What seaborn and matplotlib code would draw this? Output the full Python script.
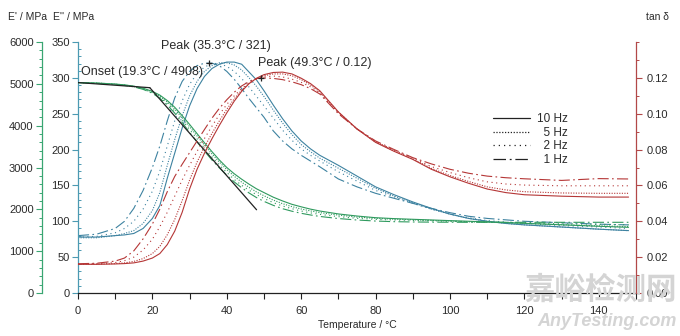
import matplotlib
matplotlib.use("Agg")
import numpy as np
import pandas as pd
import matplotlib.pyplot as plt
from matplotlib.lines import Line2D
from matplotlib.ticker import MultipleLocator, FixedLocator, FormatStrFormatter
import seaborn as sns

# ---- data -------------------------------------------------------------
temperature = [0, 5, 10, 12.5, 15, 17.5, 20, 22, 24, 26, 28, 30, 32, 34, 36, 38, 40,
               42, 44, 46, 48, 50, 52.5, 55, 57.5, 60, 62.5, 65, 70, 75, 80, 85, 90,
               95, 100, 105, 110, 115, 120, 130, 140, 148]
frequencies = ["10 Hz", "5 Hz", "2 Hz", "1 Hz"]

# storage modulus E' / MPa
storage_10hz = [5030, 5020, 4995, 4975, 4945, 4895, 4820, 4730, 4600, 4440, 4240, 4030, 3810, 3590,
                3380, 3180, 3000, 2850, 2720, 2600, 2490, 2400, 2290, 2200, 2120, 2060, 2005, 1960,
                1890, 1840, 1800, 1778, 1762, 1746, 1730, 1715, 1700, 1685, 1665, 1630, 1595, 1570]
storage_5hz = [5030, 5020, 4993, 4972, 4940, 4885, 4805, 4705, 4565, 4395, 4190, 3975, 3755, 3535,
               3325, 3130, 2950, 2790, 2650, 2525, 2415, 2325, 2220, 2135, 2065, 2008, 1962, 1922,
               1862, 1815, 1785, 1765, 1750, 1735, 1720, 1705, 1692, 1680, 1665, 1635, 1605, 1590]
storage_2hz = [5030, 5015, 4990, 4968, 4935, 4878, 4790, 4680, 4530, 4350, 4135, 3910, 3685, 3465,
               3255, 3060, 2880, 2715, 2575, 2455, 2350, 2260, 2160, 2080, 2015, 1960, 1915, 1880,
               1825, 1785, 1760, 1745, 1735, 1725, 1715, 1705, 1695, 1685, 1675, 1655, 1640, 1630]
storage_1hz = [5030, 5010, 4985, 4962, 4928, 4868, 4775, 4655, 4495, 4300, 4075, 3840, 3610, 3390,
               3180, 2990, 2815, 2655, 2515, 2390, 2280, 2190, 2095, 2015, 1955, 1905, 1865, 1830,
               1780, 1745, 1720, 1705, 1698, 1694, 1692, 1690, 1690, 1690, 1690, 1690, 1690, 1690]

# loss modulus E'' / MPa
loss_10hz = [78, 78, 80, 81, 83, 90, 104, 122, 160, 195, 230, 261, 285, 302, 313, 319, 322,
             322, 319, 308, 297, 282, 262, 243, 226, 212, 201, 192, 178, 163, 148, 137, 127,
             118, 110, 104, 100, 97, 95, 92, 89, 87]
loss_5hz = [77, 77, 80, 83, 87, 97, 115, 140, 178, 214, 247, 275, 295, 309, 317, 321, 321,
            318, 311, 300, 288, 274, 255, 237, 221, 207, 197, 188, 174, 160, 146, 135, 126,
            117, 110, 104, 100, 97, 95, 92, 89, 87]
loss_2hz = [78, 79, 84, 90, 100, 117, 142, 170, 205, 240, 268, 291, 306, 315, 320, 320, 316,
            309, 299, 287, 274, 261, 244, 227, 213, 201, 192, 184, 169, 156, 143, 134, 125,
            117, 110, 105, 101, 99, 97, 94, 92, 90]
loss_1hz = [80, 82, 90, 100, 118, 143, 175, 205, 240, 272, 295, 309, 317, 320.5, 320.5, 317, 309,
            298, 285, 271, 258, 245, 226, 212, 201, 192, 184, 176, 159, 148, 139, 132, 125,
            118, 112, 107, 104, 102, 100, 98, 96, 95]

# loss factor tan delta
tan_10hz = [0.0160, 0.0160, 0.0162, 0.0164, 0.0168, 0.0178, 0.0195, 0.0220, 0.0270, 0.0345, 0.0450,
            0.0580, 0.0690, 0.0780, 0.0860, 0.0935, 0.1005, 0.1070, 0.1125, 0.1168, 0.1198, 0.1218,
            0.1230, 0.1232, 0.1222, 0.1198, 0.1168, 0.1128, 0.1010, 0.0915, 0.0840, 0.0790, 0.0745,
            0.0690, 0.0648, 0.0612, 0.0580, 0.0560, 0.0548, 0.0540, 0.0535, 0.0535]
tan_5hz = [0.0160, 0.0161, 0.0164, 0.0168, 0.0176, 0.0192, 0.0220, 0.0260, 0.0325, 0.0410, 0.0515,
           0.0630, 0.0730, 0.0815, 0.0890, 0.0960, 0.1025, 0.1083, 0.1132, 0.1170, 0.1196, 0.1212,
           0.1222, 0.1222, 0.1212, 0.1190, 0.1160, 0.1122, 0.1008, 0.0915, 0.0842, 0.0792, 0.0748,
           0.0695, 0.0655, 0.0622, 0.0592, 0.0575, 0.0565, 0.0558, 0.0556, 0.0556]
tan_2hz = [0.0162, 0.0163, 0.0170, 0.0180, 0.0200, 0.0240, 0.0300, 0.0370, 0.0450, 0.0540, 0.0630,
           0.0712, 0.0790, 0.0862, 0.0930, 0.0995, 0.1052, 0.1100, 0.1140, 0.1172, 0.1193, 0.1205,
           0.1210, 0.1205, 0.1193, 0.1175, 0.1150, 0.1116, 0.1004, 0.0915, 0.0845, 0.0796, 0.0752,
           0.0705, 0.0672, 0.0643, 0.0620, 0.0608, 0.0602, 0.0598, 0.0598, 0.0598]
tan_1hz = [0.0163, 0.0166, 0.0178, 0.0195, 0.0235, 0.0302, 0.0385, 0.0468, 0.0565, 0.0650, 0.0718,
           0.0783, 0.0848, 0.0912, 0.0975, 0.1030, 0.1078, 0.1120, 0.1155, 0.1180, 0.1196, 0.1199,
           0.1197, 0.1190, 0.1178, 0.1162, 0.1140, 0.1110, 0.1000, 0.0915, 0.0848, 0.0800, 0.0755,
           0.0720, 0.0690, 0.0668, 0.0652, 0.0643, 0.0637, 0.0628, 0.0638, 0.0636]

# evaluation results
onset_temp, onset_storage = 19.3, 4908
baseline_temp, baseline_storage = [0, 19.3], [5030, 4908]
tangent_temp, tangent_storage = [19.3, 48.0], [4908, 1990]
peak_loss_temp, peak_loss = 35.3, 321
peak_tan_temp, peak_tan = 49.3, 0.12

x_ticks = [0, 20, 40, 60, 80, 100, 120, 140]
storage_ticks = [0, 1000, 2000, 3000, 4000, 5000, 6000]
loss_ticks = [0, 50, 100, 150, 200, 250, 300, 350]
tan_ticks = [0.00, 0.02, 0.04, 0.06, 0.08, 0.10, 0.12]

# ---- long-form tables --------------------------------------------------
def long_table(series):
    frames = []
    for freq, vals in zip(frequencies, series):
        frames.append(pd.DataFrame({"T": temperature, "value": vals, "freq": freq}))
    return pd.concat(frames, ignore_index=True)

df_storage = long_table([storage_10hz, storage_5hz, storage_2hz, storage_1hz])
df_loss = long_table([loss_10hz, loss_5hz, loss_2hz, loss_1hz])
df_tan = long_table([tan_10hz, tan_5hz, tan_2hz, tan_1hz])

# ---- style --------------------------------------------------------------
sns.set_style("ticks")
plt.rcParams["font.family"] = ["Liberation Sans", "DejaVu Sans"]
plt.rcParams["text.color"] = "#2a2a2a"

green = "#2f9a5e"
green_axis = "#3aa672"
blue = "#3d82a0"
blue_axis = "#4c9ab2"
red = "#b53636"
red_axis = "#b24848"
ink = "#2a2a2a"

dash_map = {"10 Hz": "", "5 Hz": (1, 1.3), "2 Hz": (1, 3.2), "1 Hz": (10, 3, 1.5, 3)}
lw = 0.8

W, H = 680, 336
fig = plt.figure(figsize=(W / 100, H / 100), dpi=100)
left_px, right_px, top_px, bottom_px = 78, 636, 42, 293
ax = fig.add_axes([left_px / W, 1 - bottom_px / H, (right_px - left_px) / W, (bottom_px - top_px) / H])
ax_e1 = ax.twinx()
ax_tan = ax.twinx()

# curves
sns.lineplot(data=df_storage, x="T", y="value", style="freq", style_order=frequencies,
             dashes=dash_map, color=green, lw=lw, ax=ax_e1, legend=False,
             estimator=None, sort=False)
sns.lineplot(data=df_loss, x="T", y="value", style="freq", style_order=frequencies,
             dashes=dash_map, color=blue, lw=lw, ax=ax, legend=False,
             estimator=None, sort=False)
sns.lineplot(data=df_tan, x="T", y="value", style="freq", style_order=frequencies,
             dashes=dash_map, color=red, lw=lw, ax=ax_tan, legend=False,
             estimator=None, sort=False)

# onset construction
ax_e1.plot(baseline_temp, baseline_storage, color="#222222", lw=0.9)
ax_e1.plot(tangent_temp, tangent_storage, color="#222222", lw=0.9)

# peak markers
ax.plot([peak_loss_temp], [peak_loss], marker="+", ms=5, mew=0.9, color="#222222")
ax_tan.plot([peak_tan_temp], [peak_tan], marker="+", ms=5, mew=0.9, color="#222222")

# ---- axes --------------------------------------------------------------
ax.set_xlim(0, 150)
ax.set_ylim(0, 350)
ax_e1.set_ylim(0, 6000)
ax_tan.set_ylim(0, 0.14)

for a in (ax, ax_e1, ax_tan):
    for s in a.spines.values():
        s.set_visible(False)
    a.set_xlabel("")
    a.set_ylabel("")

ax.spines["bottom"].set_visible(True)
ax.spines["bottom"].set_color("#222222")
ax.spines["bottom"].set_linewidth(0.9)
ax.spines["left"].set_visible(True)
ax.spines["left"].set_color(blue_axis)
ax.spines["left"].set_linewidth(0.9)

ax_e1.spines["left"].set_visible(True)
ax_e1.spines["left"].set_color(green_axis)
ax_e1.spines["left"].set_linewidth(0.9)
ax_e1.spines["left"].set_position(("outward", 36 * 0.72))
ax_e1.yaxis.set_ticks_position("left")
ax_e1.yaxis.set_label_position("left")

ax_tan.spines["right"].set_visible(True)
ax_tan.spines["right"].set_color(red_axis)
ax_tan.spines["right"].set_linewidth(0.9)

# x axis
ax.xaxis.set_major_locator(FixedLocator(x_ticks))
ax.xaxis.set_minor_locator(MultipleLocator(10))
ax.tick_params(axis="x", which="both", direction="out", length=4, width=0.8,
               color="#222222", labelsize=8, labelcolor=ink, pad=5)

# E'' axis
ax.yaxis.set_major_locator(FixedLocator(loss_ticks))
ax.yaxis.set_minor_locator(MultipleLocator(10))
ax.tick_params(axis="y", which="major", direction="out", length=4, width=0.8,
               color=blue_axis, labelsize=8, labelcolor=ink, pad=2)
ax.tick_params(axis="y", which="minor", direction="in", length=2.5, width=0.7, color=blue_axis)

# E' axis
ax_e1.yaxis.set_major_locator(FixedLocator(storage_ticks))
ax_e1.yaxis.set_minor_locator(MultipleLocator(200))
ax_e1.tick_params(axis="y", which="major", direction="out", length=4, width=0.8,
                  color=green_axis, labelsize=8, labelcolor=ink, pad=2)
ax_e1.tick_params(axis="y", which="minor", direction="out", length=2.5, width=0.7, color=green_axis)

# tan delta axis
ax_tan.yaxis.set_major_locator(FixedLocator(tan_ticks))
ax_tan.yaxis.set_minor_locator(MultipleLocator(0.01))
ax_tan.yaxis.set_major_formatter(FormatStrFormatter("%.2f"))
ax_tan.tick_params(axis="y", which="major", direction="out", length=4, width=0.8,
                   color=red_axis, labelsize=8, labelcolor=ink, pad=4)
ax_tan.tick_params(axis="y", which="minor", direction="out", length=2.5, width=0.7, color=red_axis)

ax.set_xlabel("Temperature / °C", fontsize=7.5, color=ink, labelpad=3)

# axis titles
fig.text(8 / W, 1 - 17 / H, "E' / MPa", fontsize=7.5, color=ink, ha="left", va="center")
fig.text(53 / W, 1 - 17 / H, "E'' / MPa", fontsize=7.5, color=ink, ha="left", va="center")
fig.text(658 / W, 1 - 17 / H, "tan δ", fontsize=7.5, color=ink, ha="center", va="center")

# annotations
ax.text(0.8, 308, f"Onset ({onset_temp}°C / {onset_storage})", fontsize=9, color=ink,
        ha="left", va="center")
ax.text(22.3, 344, f"Peak ({peak_loss_temp}°C / {peak_loss})", fontsize=9, color=ink,
        ha="left", va="center")
ax.text(48.4, 320.5, f"Peak ({peak_tan_temp}°C / {peak_tan:.2f})", fontsize=9, color=ink,
        ha="left", va="center")

# legend
handles = []
for f in frequencies:
    h = Line2D([], [], color="#222222", lw=0.9, linestyle="-")
    if dash_map[f]:
        h.set_dashes(dash_map[f])
    handles.append(h)
labels = ["10 Hz", "\u2007" + "5 Hz", "\u2007" + "2 Hz", "\u2007" + "1 Hz"]
fig.legend(handles, labels, loc="upper left", bbox_to_anchor=(493 / W, 1 - 113 / H),
           frameon=False, fontsize=8.5, handlelength=3.1, handletextpad=0.6,
           labelspacing=0.14, borderpad=0, borderaxespad=0)

# watermark
fig.text(677 / W, 1 - 290 / H, "嘉峪检测网", fontsize=22, color="#d4d4d4",
         family=["Noto Sans CJK SC", "DejaVu Sans"], ha="right", va="center", fontweight="bold")
fig.text(677 / W, 1 - 322 / H, "AnyTesting.com", fontsize=13, color="#d4d4d4",
         style="italic", fontweight="bold", ha="right", va="center")

fig.savefig("out.png", dpi=100)
